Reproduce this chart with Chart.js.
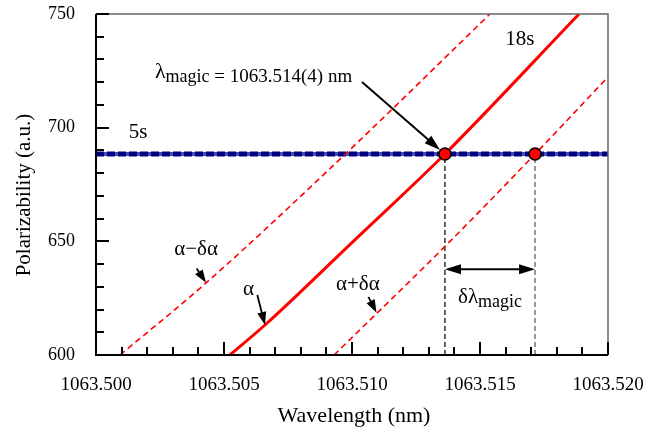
<!DOCTYPE html>
<html><head><meta charset="utf-8">
<script src="https://cdn.jsdelivr.net/npm/chart.js@4"></script>
<style>html,body{margin:0;padding:0;background:#fff}</style>
</head><body>
<canvas id="c" width="655" height="432"></canvas>
<script>
const xTickLabels = [1063.500, 1063.505, 1063.510, 1063.515, 1063.520];
const yTickLabels = [600, 650, 700, 750];
const alphaWl  = [1063.50523, 1063.50660, 1063.51005, 1063.51363, 1063.51887];
const alphaVal = [600, 613.2, 650, 688.4, 750];
const alphaMinusWl  = [1063.50094, 1063.50430, 1063.50974, 1063.51539];
const alphaMinusVal = [600, 631.7, 688.4, 750];
const alphaPlusWl  = [1063.50930, 1063.51383, 1063.51715, 1063.52000];
const alphaPlusVal = [600, 650, 688.4, 722.3];
const level5sWl  = [1063.500, 1063.520];
const level5sVal = [688.4, 688.4];
const magicWl  = [1063.51363, 1063.51715];
const magicVal = [688.4, 688.4];
const axisMinVal = 600;

const FONT = '"Liberation Serif", "Times New Roman", serif';
const pts = (xs, ys) => xs.map((x, i) => ({x, y: ys[i]}));

const annot = {
  t18s: [1063.51656, 738.6],
  t5s: [1063.50164, 697.7],
  magicLbl: [1063.50230, 720.1],
  magicArrow: [[1063.51039, 720.1], [1063.51344, 690.2]],
  tMinus: [1063.50391, 646.2],
  minusArrow: [[1063.50393, 638.1], [1063.50430, 631.8]],
  tAlpha: [1063.50596, 628.6],
  alphaArrow: [[1063.50630, 626.4], [1063.50660, 613.2]],
  tPlus: [1063.51023, 630.8],
  plusArrow: [[1063.51064, 625.6], [1063.51096, 618.6]],
  dblArrowVal: 637.7,
  dLbl: [1063.51414, 622.9]
};

function arrowHead(ctx, x1, y1, x2, y2, len, wid) {
  const a = Math.atan2(y2 - y1, x2 - x1);
  ctx.beginPath();
  ctx.moveTo(x2, y2);
  ctx.lineTo(x2 - len * Math.cos(a) + wid / 2 * Math.sin(a), y2 - len * Math.sin(a) - wid / 2 * Math.cos(a));
  ctx.lineTo(x2 - len * Math.cos(a) - wid / 2 * Math.sin(a), y2 - len * Math.sin(a) + wid / 2 * Math.cos(a));
  ctx.closePath();
  ctx.fill();
}
function arrow(ctx, x1, y1, x2, y2, lw, len, wid) {
  const a = Math.atan2(y2 - y1, x2 - x1);
  ctx.lineWidth = lw;
  ctx.beginPath();
  ctx.moveTo(x1, y1);
  ctx.lineTo(x2 - (len - 2) * Math.cos(a), y2 - (len - 2) * Math.sin(a));
  ctx.stroke();
  arrowHead(ctx, x1, y1, x2, y2, len, wid);
}

const overlay = {
  id: 'overlay',
  afterDatasetsDraw(chart) {
    const ctx = chart.ctx, xs = chart.scales.x, ys = chart.scales.y, ca = chart.chartArea;
    const X = v => xs.getPixelForValue(v), Y = v => ys.getPixelForValue(v);
    ctx.save();
    // frame
    ctx.strokeStyle = '#666'; ctx.lineWidth = 1.5;
    ctx.beginPath(); ctx.moveTo(ca.left, ca.top); ctx.lineTo(ca.right, ca.top); ctx.lineTo(ca.right, ca.bottom); ctx.stroke();
    ctx.strokeStyle = '#000'; ctx.lineWidth = 2;
    ctx.beginPath(); ctx.moveTo(ca.left, ca.top); ctx.lineTo(ca.left, ca.bottom); ctx.lineTo(ca.right, ca.bottom); ctx.stroke();
    // inward ticks
    ctx.lineWidth = 2;
    for (let i = 0; i <= 20; i++) {
      const v = xTickLabels[0] + i * (xTickLabels[1] - xTickLabels[0]) / 5;
      const px = Math.round(X(v)) ;
      const L = (i % 5 === 0) ? 13 : 8;
      ctx.beginPath(); ctx.moveTo(px, ca.bottom); ctx.lineTo(px, ca.bottom - L); ctx.stroke();
    }
    for (let i = 0; i <= 15; i++) {
      const v = yTickLabels[0] + i * (yTickLabels[1] - yTickLabels[0]) / 5;
      const py = Math.round(Y(v));
      const L = (i % 5 === 0) ? 13 : 8;
      ctx.beginPath(); ctx.moveTo(ca.left, py); ctx.lineTo(ca.left + L, py); ctx.stroke();
    }
    // annotations
    ctx.fillStyle = '#000'; ctx.strokeStyle = '#000';
    ctx.textBaseline = 'middle'; ctx.textAlign = 'center';
    ctx.font = '21px ' + FONT;
    ctx.fillText('18s', X(annot.t18s[0]), Y(annot.t18s[1]));
    ctx.fillText('5s', X(annot.t5s[0]), Y(annot.t5s[1]));
    ctx.fillText('\u03B1\u2212\u03B4\u03B1', X(annot.tMinus[0]), Y(annot.tMinus[1]));
    ctx.fillText('\u03B1', X(annot.tAlpha[0]), Y(annot.tAlpha[1]));
    ctx.fillText('\u03B1+\u03B4\u03B1', X(annot.tPlus[0]), Y(annot.tPlus[1]));
    // lambda magic label
    ctx.textAlign = 'left'; ctx.textBaseline = 'alphabetic';
    let lx = X(annot.magicLbl[0]), ly = Y(annot.magicLbl[1]);
    ctx.font = '22px ' + FONT; ctx.fillText('\u03BB', lx, ly - 4); lx += ctx.measureText('\u03BB').width;
    ctx.font = '18px ' + FONT; ctx.fillText('magic', lx, ly); lx += ctx.measureText('magic').width;
    ctx.font = '19px ' + FONT; ctx.fillText(' = 1063.514(4) nm', lx, ly);
    // delta lambda label
    let dx = X(annot.dLbl[0]), dy = Y(annot.dLbl[1]);
    ctx.font = '21px ' + FONT; ctx.fillText('\u03B4\u03BB', dx, dy); dx += ctx.measureText('\u03B4\u03BB').width;
    ctx.font = '18px ' + FONT; ctx.fillText('magic', dx, dy + 4);
    // arrows
    const A = (p, lw, len, wid) => arrow(ctx, X(p[0][0]), Y(p[0][1]), X(p[1][0]), Y(p[1][1]), lw, len, wid);
    A(annot.magicArrow, 2, 16, 10);
    A(annot.minusArrow, 1.8, 13, 9);
    A(annot.alphaArrow, 1.8, 13, 9);
    A(annot.plusArrow, 1.8, 13, 9);
    const ay = Y(annot.dblArrowVal), ax1 = X(magicWl[0]), ax2 = X(magicWl[1]);
    ctx.lineWidth = 2;
    ctx.beginPath(); ctx.moveTo(ax1 + 12, ay); ctx.lineTo(ax2 - 12, ay); ctx.stroke();
    arrowHead(ctx, ax2, ay, ax1, ay, 16, 10);
    arrowHead(ctx, ax1, ay, ax2, ay, 16, 10);
    // axis titles
    ctx.textAlign = 'center'; ctx.textBaseline = 'middle';
    ctx.font = '22px ' + FONT;
    ctx.fillText('Wavelength (nm)', (ca.left + ca.right) / 2 + 2, 416);
    ctx.save(); ctx.translate(24, 195); ctx.rotate(-Math.PI / 2);
    ctx.font = '21px ' + FONT; ctx.fillText('Polarizability (a.u.)', 0, 0); ctx.restore();
    ctx.restore();
  }
};

new Chart(document.getElementById('c'), {
  type: 'line',
  data: {
    datasets: [
      { data: pts(magicWl, magicVal), showLine: false, pointRadius: 6, pointBackgroundColor: '#ff0000', pointBorderColor: '#000', pointBorderWidth: 1.5, order: 0 },
      { data: pts(alphaWl, alphaVal), borderColor: '#ff0000', borderWidth: 3, pointRadius: 0, cubicInterpolationMode: 'monotone', order: 1 },
      { data: pts(alphaMinusWl, alphaMinusVal), borderColor: '#ff0000', borderWidth: 1.6, borderDash: [6, 4], pointRadius: 0, cubicInterpolationMode: 'monotone', order: 1 },
      { data: pts(alphaPlusWl, alphaPlusVal), borderColor: '#ff0000', borderWidth: 1.6, borderDash: [6, 4], pointRadius: 0, cubicInterpolationMode: 'monotone', order: 1 },
      { data: pts(level5sWl, level5sVal), borderColor: '#000080', borderWidth: 5, borderDash: [8, 3], pointRadius: 0, order: 2 },
      { data: pts(level5sWl, level5sVal), borderColor: '#3f4fb0', borderWidth: 4, pointRadius: 0, order: 3 },
      { data: [{x: magicWl[0], y: axisMinVal}, {x: magicWl[0], y: magicVal[0]}], borderColor: '#000', borderWidth: 1.2, borderDash: [5, 3], pointRadius: 0, order: 4 },
      { data: [{x: magicWl[1], y: axisMinVal}, {x: magicWl[1], y: magicVal[1]}], borderColor: '#555', borderWidth: 1.2, borderDash: [5, 3], pointRadius: 0, order: 4 }
    ]
  },
  options: {
    responsive: false, animation: false,
    layout: { padding: { top: 14, right: 47, left: 0, bottom: 0 } },
    plugins: { legend: { display: false }, tooltip: { enabled: false } },
    scales: {
      x: {
        type: 'linear', min: xTickLabels[0], max: xTickLabels[xTickLabels.length - 1],
        grid: { display: false, drawTicks: false }, border: { display: false },
        ticks: { color: '#000', font: { family: FONT, size: 19 }, padding: 19, maxRotation: 0, autoSkip: false, callback: v => Number(v).toFixed(3) },
        afterBuildTicks: s => { s.ticks = xTickLabels.map(v => ({ value: v })); },
        afterFit: s => { s.height = 77; s.paddingLeft = 0; s.paddingRight = 0; s.paddingTop = 0; s.paddingBottom = 0; }
      },
      y: {
        type: 'linear', min: yTickLabels[0], max: yTickLabels[yTickLabels.length - 1],
        grid: { display: false, drawTicks: false }, border: { display: false },
        ticks: { color: '#000', font: { family: FONT, size: 18 }, padding: 21, autoSkip: false },
        afterBuildTicks: s => { s.ticks = yTickLabels.map(v => ({ value: v })); },
        afterFit: s => { s.width = 96; s.paddingLeft = 0; s.paddingRight = 0; s.paddingTop = 0; s.paddingBottom = 0; }
      }
    }
  },
  plugins: [overlay]
});
</script>
</body></html>
